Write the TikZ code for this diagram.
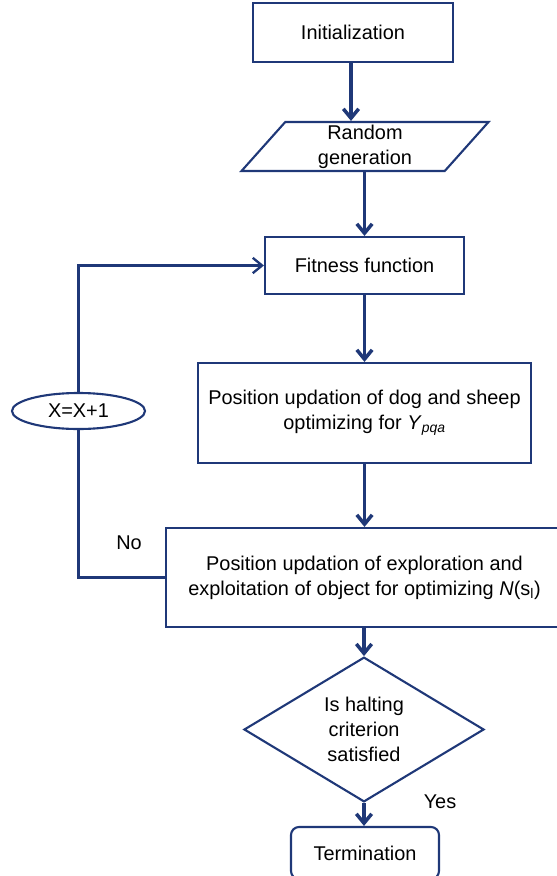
\documentclass[tikz,border=0pt]{standalone}
\usepackage{fontspec}
\setmainfont{Liberation Sans}
\usetikzlibrary{shapes.geometric, arrows.meta, positioning}
\definecolor{navy}{RGB}{31,56,120}

\begin{document}
\begin{tikzpicture}[
        x=0.3mm, y=-0.3mm,
        every node/.style={font=\fontsize{17}{21.5}\selectfont, align=center, inner sep=0pt},
        box/.style={draw=navy, line width=1.8pt, rectangle},
        io/.style={draw=navy, line width=1.8pt, trapezium, trapezium left angle=45,
            trapezium right angle=135, trapezium stretches body},
        decision/.style={draw=navy, line width=1.8pt, diamond},
        counter/.style={draw=navy, line width=1.8pt, ellipse},
        flow/.style={draw=navy, line width=3pt, -{Straight Barb[length=2.8mm,width=4.6mm]}},
        back/.style={draw=navy, line width=2pt}]

        \useasboundingbox (0,0) rectangle (556,876);

        \node[box, minimum width=60mm, minimum height=17.7mm] (init) at (353,32.5) {Initialization};
        \node[io, minimum width=74.1mm, minimum height=14.7mm] (randgen) at (365,146.5) {Random\\generation};
        \node[box, minimum width=59.7mm, minimum height=17.1mm] (fitness) at (364.5,265.5) {Fitness function};
        \node[box, minimum width=99.9mm, minimum height=30mm] (dogsheep) at (364.5,413)
            {Position updation of dog and sheep\\optimizing for \textit{Y}\textsubscript{\textit{pqa}}};
        \node[box, minimum width=119.1mm, minimum height=29.7mm] (explore) at (364.5,577.5)
            {Position updation of exploration and\\exploitation of object for optimizing \textit{N}(s\textsubscript{l})};
        \node[decision, minimum width=72mm, minimum height=36.3mm] (halt) at (364,729.5)
            {Is halting\\criterion\\satisfied};
        \node[box, rounded corners=2.4mm, minimum width=44.4mm, minimum height=15.6mm] (term) at (365,853)
            {Termination};
        \node[counter, minimum width=39.9mm, minimum height=10.8mm] (incr) at (78.5,411) {X=X+1};

        \node (no) at (129,543) {No};
        \node (yes) at (440,802) {Yes};

        \draw[flow] ([xshift=-0.6mm]init.south) -- ([xshift=-0.6mm]init.south |- randgen.north);
        \draw[flow] (randgen.south -| fitness.north) -- (fitness.north);
        \draw[flow] (fitness) -- (dogsheep);
        \draw[flow] (dogsheep) -- (explore);
        \draw[flow] (explore.south -| halt.north) -- (halt);
        \draw[flow] (halt.south) -- (halt.south |- term.north);

        % loop back
        \draw[back] (explore.west) -| (incr.south);
        \draw[back, -{Straight Barb[length=2.8mm,width=4.6mm]}] (incr.north) |- (fitness.west);

    \end{tikzpicture}
\end{document}
